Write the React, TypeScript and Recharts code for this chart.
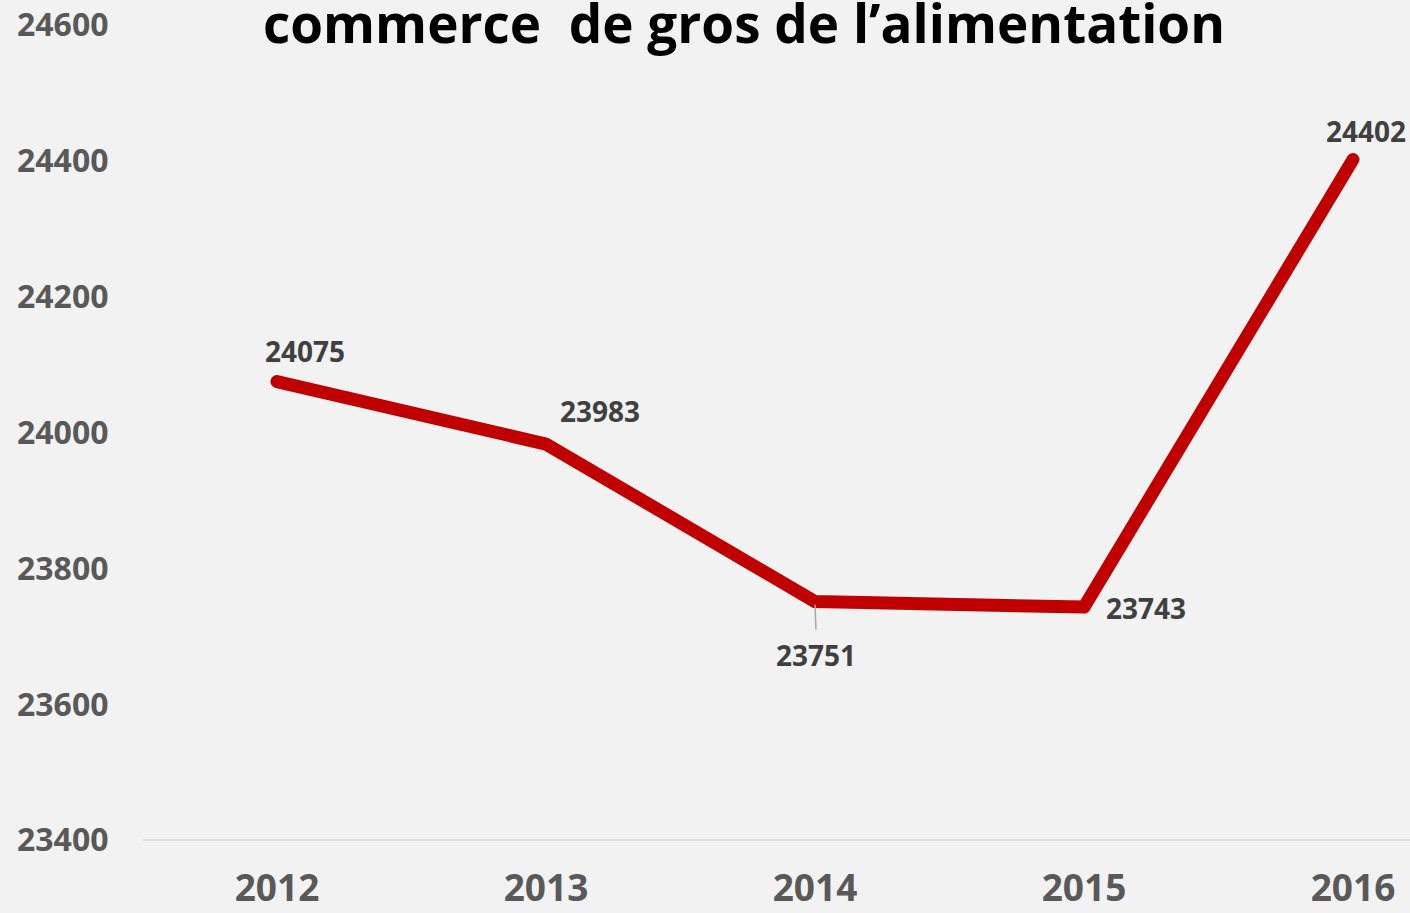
import { LineChart, Line, XAxis, YAxis, LabelList } from "recharts";

const years = ["2012", "2013", "2014", "2015", "2016"];
const effectifs = [24075, 23983, 23751, 23743, 24402];
const yTicks = [23400, 23600, 23800, 24000, 24200, 24400, 24600];
const titre = "commerce  de gros de l\u2019alimentation";

const rows = years.map((annee, i) => ({ annee, valeur: effectifs[i] }));

// where each value label sits relative to its point
const labelOffsets = [
  { dx: 28, dy: -31, leader: false },
  { dx: 54, dy: -33, leader: false },
  { dx: 1, dy: 53, leader: true },
  { dx: 62, dy: 1, leader: false },
  { dx: 13, dy: -28, leader: false },
];

const ValueLabel = (props: any) => {
  const { x, y, value, index } = props;
  const o = labelOffsets[index] || { dx: 0, dy: -30, leader: false };
  return (
    <g>
      {o.leader && (
        <line x1={x} y1={y + 3} x2={x + 1} y2={y + 28} stroke="#a6a6a6" strokeWidth={1.5} />
      )}
      <text
        x={x + o.dx}
        y={y + o.dy}
        textAnchor="middle"
        dominantBaseline="central"
        fontSize={28}
        fontWeight={700}
        fill="#404040"
        fontFamily="'Open Sans', sans-serif"
      >
        {value}
      </text>
    </g>
  );
};

export default function App() {
  return (
    <div
      style={{
        position: "absolute",
        left: 0,
        top: 0,
        width: 1410,
        height: 913,
        overflow: "hidden",
        background: "#f2f2f2",
        fontFamily: "'Open Sans', sans-serif",
      }}
    >
      <LineChart
        width={1500}
        height={913}
        data={rows}
        margin={{ top: 25, right: 12.5, bottom: 0, left: 0 }}
      >
        <XAxis
          dataKey="annee"
          padding={{ left: 134.5, right: 134.5 }}
          axisLine={{ stroke: "#d9d9d9", strokeWidth: 1.5 }}
          tickLine={false}
          tickSize={0}
          tickMargin={35}
          tick={{ fontSize: 37, fontWeight: 700, fill: "#595959" }}
          height={73}
        />
        <YAxis
          domain={[23400, 24600]}
          ticks={yTicks}
          width={142.5}
          axisLine={false}
          tickLine={false}
          tickSize={0}
          tickMargin={34}
          tick={{ fontSize: 32, fontWeight: 700, fill: "#595959" }}
        />
        <Line
          type="linear"
          dataKey="valeur"
          stroke="#c00000"
          strokeWidth={13}
          strokeLinecap="round"
          strokeLinejoin="round"
          dot={false}
          activeDot={false}
          isAnimationActive={false}
        >
          <LabelList dataKey="valeur" content={ValueLabel} />
        </Line>
      </LineChart>
      <svg
        width={1410}
        height={913}
        style={{ position: "absolute", left: 0, top: 0, pointerEvents: "none" }}
      >
        <text
          x={744}
          y={43}
          textAnchor="middle"
          fontSize={54}
          fontWeight={700}
          fill="#000000"
          textLength={962}
          lengthAdjust="spacingAndGlyphs"
          style={{ whiteSpace: "pre" }}
        >
          {titre}
        </text>
      </svg>
    </div>
  );
}
